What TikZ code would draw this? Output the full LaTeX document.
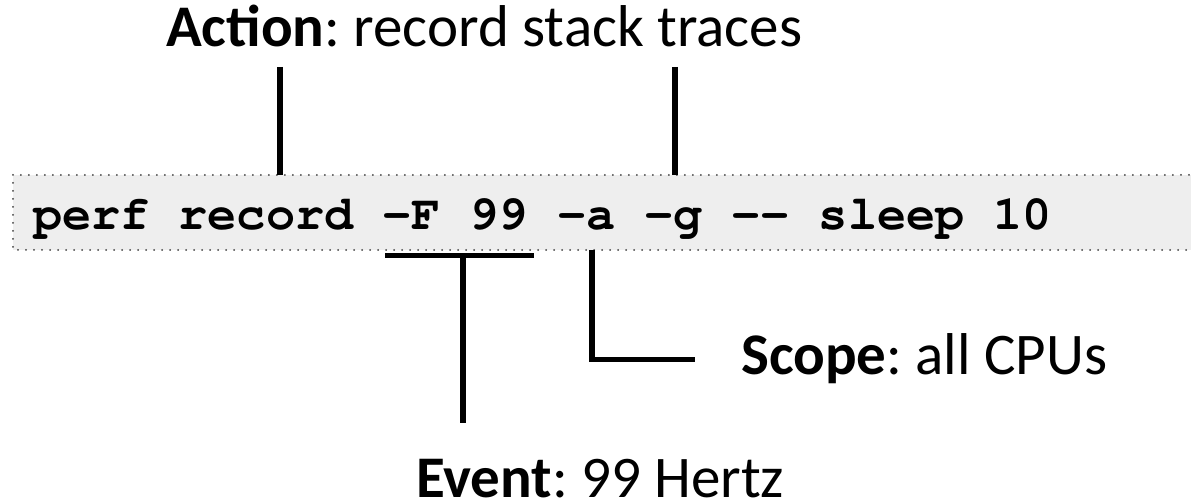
\documentclass[tikz,border=0pt]{standalone}
\usepackage{fontspec}
\setmainfont{Carlito}
\newfontfamily\codefont{texgyrecursor}[Extension=.otf, UprightFont=*-regular, BoldFont=*-bold]
\definecolor{boxgray}{HTML}{EEEEEE}
\frenchspacing
\begin{document}
\frenchspacing
\begin{tikzpicture}[x=1bp,y=-1bp,
  lbl/.style={inner sep=0, anchor=base west, font=\fontsize{59bp}{61bp}\selectfont},
  code/.style={inner sep=0, anchor=base west, font=\codefont\bfseries\fontsize{48.5bp}{50bp}\selectfont},
  conn/.style={line width=5.5bp, line join=miter},
  cmdbox/.style={fill=boxgray, draw=black!75, line width=2bp, line cap=round, dash pattern=on 0bp off 8bp}]
\useasboundingbox (0,0) rectangle (1191,501);
\draw[cmdbox] (13,175) rectangle (1210,250);
\node[code] (cmd) at (33,230) {perf record -F 99 -a -g -- sleep 10};
\node[lbl] (action) at (166,47) {\textbf{Action}: record stack traces};
\node[lbl] (scope) at (741,375) {\textbf{Scope}: all CPUs};
\node[lbl] (event) at (416,497) {\textbf{Event}: 99 Hertz};
\coordinate (a1t) at (280,67);
\coordinate (a1b) at (280,175);
\coordinate (a2t) at (675,67);
\coordinate (a2b) at (675,175);
\coordinate (el) at (385,255.5);
\coordinate (er) at (534,255.5);
\coordinate (et) at (463,255.5);
\coordinate (eb) at (463,423);
\coordinate (st) at (592,250);
\coordinate (sc) at (592,359.5);
\coordinate (se) at (695,359.5);
\draw[conn] (a1t) -- (a1b);
\draw[conn] (a2t) -- (a2b);
\draw[conn] (el) -- (er);
\draw[conn] (et) -- (eb);
\draw[conn] (st) -- (sc) -- (se);
\end{tikzpicture}
\end{document}
